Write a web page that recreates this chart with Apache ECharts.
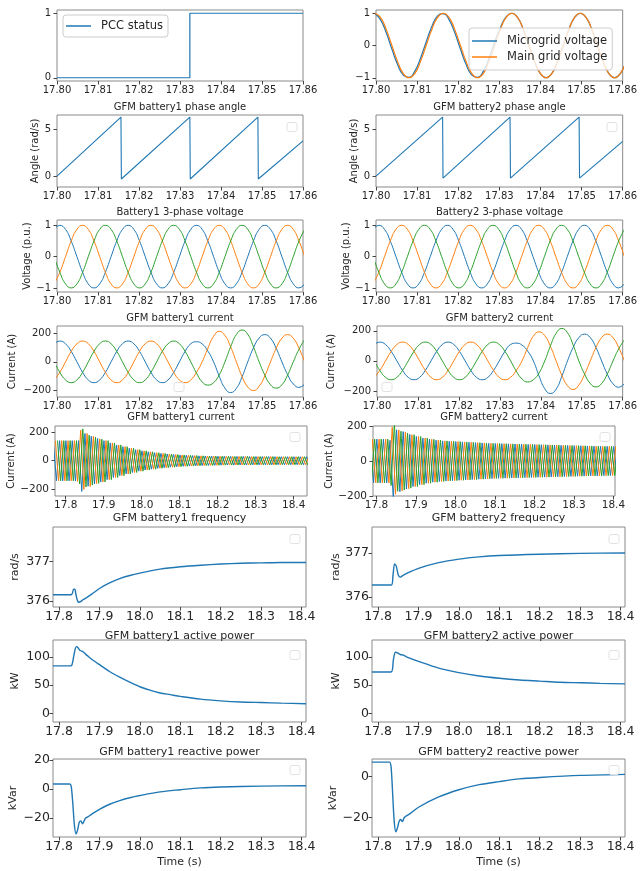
<!DOCTYPE html>
<html><head><meta charset="utf-8">
<script src="https://cdn.jsdelivr.net/npm/echarts@6/dist/echarts.min.js"></script>
<style>html,body{margin:0;padding:0;background:#fff}#c{width:640px;height:871px}</style>
</head><body><div id="c"></div>
<script>
// ================= DATA =================
const shortTicks = [17.80, 17.81, 17.82, 17.83, 17.84, 17.85, 17.86];
const longTicks = [17.8, 17.9, 18.0, 18.1, 18.2, 18.3, 18.4];

// 30-degree sampling step (60 Hz) for the zoomed waveform panels
const DT = 1 / 720;
const T0_GRIDV = 17.7997;
const T0_BAT = 17.7993;

const pccT = [17.80, 17.8324, 17.8324, 17.86];
const pccV = [0, 0, 1, 1];

const microgridV = [.99,.80,.40,-.11,-.59,-.92,-.99,-.80,-.40,.11,.59,.92,
  .99,.80,.40,-.11,-.59,-.92,-.99,-.80,-.40,.11,.55,.89,
  1,.87,.5,0,-.5,-.87,-1,-.87,-.5,0,.5,.87,
  1,.87,.5,0,-.5,-.87,-1,-.87,-.5];
const mainGridV = [1,.87,.5,0,-.5,-.87,-1,-.87,-.5,0,.5,.87,
  1,.87,.5,0,-.5,-.87,-1,-.87,-.5,0,.5,.87,
  1,.87,.5,0,-.5,-.87,-1,-.87,-.5,0,.5,.87,
  1,.87,.5,0,-.5,-.87,-1,-.87,-.5];

const angle1T = [17.80, 17.8156, 17.8157, 17.8324, 17.8325, 17.8490, 17.8491, 17.86];
const angle1V = [0, 6.28, -0.3, 6.28, -0.3, 6.28, -0.3, 3.75];
const angle2T = [17.80, 17.8162, 17.8163, 17.8326, 17.8327, 17.8494, 17.8495, 17.86];
const angle2V = [0, 6.28, -0.2, 6.28, -0.2, 6.28, -0.2, 3.7];

const volt1A = [.87,1,.87,.5,0,-.5,-.87,-1,-.87,-.5,0,.5,
  .87,1,.87,.5,0,-.5,-.87,-1,-.87,-.5,0,.5,
  .87,1,.87,.5,0,-.5,-.87,-1,-.87,-.5,0,.5,
  .87,1,.87,.5,0,-.5,-.87,-1,-.87];
const volt1B = [-.87,-.5,0,.5,.87,1,.87,.5,0,-.5,-.87,-1,
  -.87,-.5,0,.5,.87,1,.87,.5,0,-.5,-.87,-1,
  -.87,-.5,0,.5,.87,1,.87,.5,0,-.5,-.87,-1,
  -.87,-.5,0,.5,.87,1,.87,.5,0];
const volt1C = [0,-.5,-.87,-1,-.87,-.5,0,.5,.87,1,.87,.5,
  0,-.5,-.87,-1,-.87,-.5,0,.5,.87,1,.87,.5,
  0,-.5,-.87,-1,-.87,-.5,0,.5,.87,1,.87,.5,
  0,-.5,-.87,-1,-.87,-.5,0,.5,.87];
const volt2A = volt1A, volt2B = volt1B, volt2C = volt1C;

const cur1A = [126,145,126,73,0,-73,-126,-145,-126,-73,0,73,
  126,145,126,73,0,-73,-126,-145,-126,-73,0,73,
  126,140,125,75,0,-100,-184,-214,-185,-105,0,97,166,190,165,94,0,-89,-154,-178,-155];
const cur1B = [-126,-73,0,73,126,145,126,73,0,-73,-126,-145,
  -126,-73,0,73,126,145,126,73,0,-73,-126,-145,
  -126,-73,0,95,178,213,184,104,0,-102,-175,-200,-170,-98,0,95,165,190,165,95,0];
const cur1C = [0,-73,-126,-145,-126,-73,0,73,126,145,126,73,
  0,-73,-126,-145,-126,-73,0,73,126,145,126,73,
  0,-78,-140,-162,-145,-90,0,105,190,222,192,105,0,-92,-160,-183,-160,-92,0,88,155];
const cur2A = [109,125,109,63,0,-63,-109,-125,-109,-63,0,63,
  109,125,109,63,0,-63,-109,-125,-109,-63,0,63,
  109,118,105,65,0,-100,-185,-217,-188,-103,0,90,155,178,155,89,0,-88,-152,-175,-152];
const cur2B = [-109,-63,0,63,109,125,109,63,0,-63,-109,-125,
  -109,-63,0,63,109,125,109,63,0,-63,-109,-125,
  -109,-63,0,88,165,193,168,97,0,-95,-165,-190,-160,-90,0,89,155,178,155,89,0];
const cur2C = [0,-63,-109,-125,-109,-63,0,63,109,125,109,63,
  0,-63,-109,-125,-109,-63,0,63,109,125,109,63,
  0,-68,-120,-140,-125,-80,0,100,183,216,187,105,0,-87,-150,-173,-150,-87,0,80,140];

// long-window currents: one value per half cycle (peaks), 1/120 s apart
const DT_HALF = 1 / 120;
const T0_DENSE = [17.7674, 17.7730, 17.7785];
const head1A = [140,-140,140,-140,140,-140,140,-142,140,-214,190,-178,170,-162,155];
const head1B = [140,-140,140,-140,140,-140,140,-145,213,-200,190,-180,170,-160,152];
const head1C = [140,-140,140,-140,140,-140,140,-162,222,-183,178,-170,165,-158,150];
const tail1 = [-148,140,-132,124,-117,110,-104,98,-92,87,-82,77,-73,69,-65,62,-59,56,-53,51,
  -49,47,-45,43,-42,40,-39,38,-37,36,-35,34,-34,33,-33,32,-32,31,-31,31,
  -30,30,-30,30,-30,30,-30,29,-29,29,-29,29,-29,29,-29,28,-28,28,-28,28,
  -28,28,-28,28,-28,28,-28];
const head2A = [125,-125,125,-125,125,-125,125,-125,118,-217,178,-175,168,-160,152];
const head2B = [125,-125,125,-125,125,-125,125,-125,193,-190,178,-170,165,-158,150];
const head2C = [125,-125,125,-125,125,-125,125,-140,216,-173,170,-166,160,-155,150];
const tail2 = [-146,140,-135,131,-127,124,-121,119,-117,115,-114,113,-112,111,-110,109,-108,107,-106,105,
  -104,103,-102,101,-100,100,-99,99,-98,98,-97,97,-96,96,-95,95,-94,94,-93,93,
  -92,92,-91,91,-90,90,-89,89,-88,88,-87,87,-86,86,-85,85,-85,84,-84,84,
  -83,83,-83,83,-82,82,-82];

const freq1T = [17.785,17.83,17.833,17.836,17.839,17.842,17.846,17.85,17.855,17.86,17.87,17.88,17.9,17.925,17.95,17.975,18.0,18.05,18.1,18.15,18.2,18.25,18.3,18.35,18.411];
const freq1V = [376.16,376.16,376.2,376.3,376.3,376.15,376.0,375.97,376.0,376.04,376.1,376.17,376.32,376.46,376.57,376.65,376.71,376.81,376.87,376.91,376.94,376.96,376.97,376.98,376.98];
const freq2T = [17.785,17.833,17.837,17.841,17.845,17.85,17.855,17.86,17.87,17.9,17.95,18.0,18.05,18.1,18.2,18.3,18.411];
const freq2V = [376.27,376.27,376.5,376.75,376.7,376.5,376.45,376.48,376.53,376.65,376.78,376.86,376.91,376.94,376.97,376.99,377.0];

const p1T = [17.785,17.828,17.832,17.836,17.84,17.843,17.847,17.852,17.857,17.862,17.87,17.88,17.9,17.925,17.95,17.975,18.0,18.025,18.05,18.075,18.1,18.15,18.2,18.25,18.3,18.35,18.411];
const p1V = [84,84,86,100,114,118,116,111,110,107,102,96,86,74,64,55,47,41,36,33,30,25,22,20,19,18,17];
const p2T = [17.785,17.832,17.838,17.843,17.848,17.855,17.862,17.87,17.9,17.95,18.0,18.05,18.1,18.15,18.2,18.25,18.3,18.35,18.411];
const p2V = [73,73,95,108,107,104,103,100,92,80,72,66,62,59,57,55,54,53,52];

const q1T = [17.785,17.826,17.83,17.834,17.838,17.842,17.846,17.85,17.854,17.858,17.862,17.866,17.872,17.88,17.9,17.925,17.95,17.975,18.0,18.05,18.1,18.15,18.2,18.3,18.411];
const q1V = [3.5,3.5,2,-10,-25,-31,-28,-23,-22,-24,-22,-20,-19,-17.5,-14,-10.5,-8,-6,-4.5,-2,-0.5,0.8,1.4,2,2.3];
const q2T = [17.785,17.828,17.832,17.836,17.84,17.844,17.848,17.852,17.856,17.86,17.865,17.872,17.88,17.9,17.95,18.0,18.05,18.1,18.15,18.2,18.3,18.411];
const q2V = [7,7,5,-8,-22,-27,-25,-22,-21,-22,-20,-19,-18,-15,-10,-6.5,-4,-2.5,-1.2,-0.5,0.5,1];

// ================= CHART =================
const C = ['#1f77b4', '#ff7f0e', '#2ca02c'];
const FONT = 'DejaVu Sans';
const TXT = '#262626';
const fmtY = v => String(Math.round(v * 100) / 100).replace('-', '\u2212');

const G = [
  [57,10,246,71],[376,10,247,71],
  [57,115,246,72],[376,115,247,72],
  [57,220,246,72],[376,220,247,72],
  [57,326,246,71],[377,326,246,71],
  [55,426,252,70],[373,426,242,70],
  [53,527,253,80],[372,527,253,80],
  [53,640,253,82],[372,640,253,82],
  [53,759,253,78],[372,759,253,78]
];
const XR = [
  [17.80,17.86],[17.80,17.86],[17.80,17.86],[17.80,17.86],
  [17.80,17.86],[17.80,17.86],[17.80,17.86],[17.80,17.86],
  [17.772,18.435],[17.791,18.404],
  [17.785,18.411],[17.785,18.411],[17.785,18.411],[17.785,18.411],[17.785,18.411],[17.785,18.411]
];
const YR = [
  [-0.05,1.05,[0,1]],[-1.1,1.1,[-1,0,1]],
  [-1.15,6.5,[0,5]],[-1.15,6.5,[0,5]],
  [-1.13,1.17,[-1,0,1]],[-1.13,1.17,[-1,0,1]],
  [-245,250,[-200,0,200]],[-240,232,[-200,0,200]],
  [-246,242,[-200,0,200]],[-200,200,[-200,0,200]],
  [375.85,377.88,[376,377]],[375.77,377.59,[376,377]],
  [-15.4,129.7,[0,50,100]],[-15.4,129.7,[0,50,100]],
  [-33.1,20.7,[-20,0,20]],[-29.5,8.5,[-20,0]]
];
const YNAME = [
  ['',0],['',0],
  ['Angle (rad/s)',15],['Angle (rad/s)',14],
  ['Voltage (p.u.)',24],['Voltage (p.u.)',24],
  ['Current (A)',40],['Current (A)',41],
  ['Current (A)',28],['Current (A)',39],
  ['rad/s',32],['rad/s',30],
  ['kW',32],['kW',30],
  ['kVar',34],['kVar',32]
];

const grid = [], xAxis = [], yAxis = [];
G.forEach((g, i) => {
  const big = i >= 10;
  const mid = i === 8 || i === 9;
  const tickFs = big ? 12.5 : (mid ? 10.5 : 10);
  grid.push({left:g[0], top:g[1], width:g[2], height:g[3], show:true, borderColor:'#8a8a8a', borderWidth:1, containLabel:false});
  const xt = i < 8 ? shortTicks : longTicks;
  xAxis.push({
    type:'value', gridIndex:i, min:XR[i][0], max:XR[i][1],
    axisLine:{show:false, onZero:false}, splitLine:{show:false},
    axisTick:{show:true, length:3.5, lineStyle:{color:'#444'}, customValues:xt},
    axisLabel:{show:true, customValues:xt, margin: big ? 3.5 : 4, fontFamily:FONT, fontSize:tickFs, color:TXT,
      formatter: v => i < 8 ? v.toFixed(2) : v.toFixed(1), showMinLabel:true, showMaxLabel:true},
    name: (i >= 14) ? 'Time (s)' : '', nameLocation:'middle', nameGap:20,
    nameTextStyle:{fontFamily:FONT, fontSize:11, color:TXT}
  });
  yAxis.push({
    type:'value', gridIndex:i, min:YR[i][0], max:YR[i][1],
    axisLine:{show:false, onZero:false}, splitLine:{show:false},
    axisTick:{show:true, length:3.5, lineStyle:{color:'#444'}, customValues:YR[i][2]},
    axisLabel:{show:true, customValues:YR[i][2], margin: big ? 3 : 6, fontFamily:FONT, fontSize:tickFs, color:TXT,
      formatter: fmtY, showMinLabel:true, showMaxLabel:true},
    name: YNAME[i][0], nameLocation:'middle', nameGap:YNAME[i][1], nameRotate:90,
    nameTextStyle:{fontFamily:FONT, fontSize: big ? 11 : 10, color:TXT}
  });
});

const series = [];
const pairs = (ts, vs) => ts.map((t, k) => [t, vs[k]]);
const gridPairs = (t0, dt, vs) => vs.map((v, k) => [t0 + k * dt, v]);
function add(name, idx, data, color, width, smooth) {
  series.push({type:'line', name, xAxisIndex:idx, yAxisIndex:idx, data,
    symbol:'none', showSymbol:false, smooth: smooth || false, clip:true, silent:true, animation:false,
    lineStyle:{color, width: width || 1.1}, itemStyle:{color}, emphasis:{disabled:true}});
}
add('PCC status', 0, pairs(pccT, pccV), C[0], 1.2);
add('Microgrid voltage', 1, gridPairs(T0_GRIDV, DT, microgridV), C[0], 1.2, 0.5);
add('Main grid voltage', 1, gridPairs(T0_GRIDV, DT, mainGridV), C[1], 1.2, 0.5);
add('Battery1 angle', 2, pairs(angle1T, angle1V), C[0], 1.1);
add('Battery2 angle', 3, pairs(angle2T, angle2V), C[0], 1.1);
[[volt1A, volt1B, volt1C, 4], [volt2A, volt2B, volt2C, 5], [cur1A, cur1B, cur1C, 6], [cur2A, cur2B, cur2C, 7]]
  .forEach(s => { for (let p = 0; p < 3; p++) add('w' + s[3] + p, s[3], gridPairs(T0_BAT, DT, s[p]), C[p], 1.0, 0.5); });
const dense1 = [head1A.concat(tail1), head1B.concat(tail1), head1C.concat(tail1)];
const dense2 = [head2A.concat(tail2), head2B.concat(tail2), head2C.concat(tail2)];
for (let p = 0; p < 3; p++) add('d1' + p, 8, gridPairs(T0_DENSE[p], DT_HALF, dense1[p]), C[p], 1);
for (let p = 0; p < 3; p++) add('d2' + p, 9, gridPairs(T0_DENSE[p], DT_HALF, dense2[p]), C[p], 1);
add('f1', 10, pairs(freq1T, freq1V), C[0], 1.4, 0.3);
add('f2', 11, pairs(freq2T, freq2V), C[0], 1.4, 0.3);
add('p1', 12, pairs(p1T, p1V), C[0], 1.4, 0.3);
add('p2', 13, pairs(p2T, p2V), C[0], 1.4, 0.3);
add('q1', 14, pairs(q1T, q1V), C[0], 1.4, 0.3);
add('q2', 15, pairs(q2T, q2V), C[0], 1.4, 0.3);

const titles = [
  ['GFM battery1 phase angle',180,107,10],['GFM battery2 phase angle',499.5,107,10],
  ['Battery1 3-phase voltage',180,212,10],['Battery2 3-phase voltage',499.5,212,10],
  ['GFM battery1 current',180,318,10],['GFM battery2 current',499.5,318,10],
  ['GFM battery1 current',181,417,10],['GFM battery2 current',494,417,10],
  ['GFM battery1 frequency',179.5,518,11],['GFM battery2 frequency',498.5,518,11],
  ['GFM battery1 active power',179.5,636,11],['GFM battery2 active power',498.5,636,11],
  ['GFM battery1 reactive power',179.5,752,11],['GFM battery2 reactive power',498.5,752,11]
];
const graphic = titles.map(t => ({type:'text', x:t[1], y:t[2], silent:true,
  style:{text:t[0], textAlign:'center', textVerticalAlign:'middle', fontFamily:FONT, fontSize:t[3], fill:TXT}}));
// empty legend frames
[[292,127],[612,127],[179,387],[387,387],[295,437],[605,437],[295,539],[614,539],[295,655],[614,655],[295,770],[614,770]]
  .forEach(b => graphic.push({type:'rect', silent:true, shape:{x:b[0]-5, y:b[1]-4.5, width:10, height:9, r:2},
    style:{fill:'rgba(255,255,255,0.8)', stroke:'#e2e2e2', lineWidth:1}, z:10}));

const legTxt = {fontFamily:FONT, fontSize:11.5, color:TXT, padding:[0,0,0,5]};
const option = {
  animation:false,
  grid, xAxis, yAxis, series, graphic,
  legend:[
    {data:['PCC status'], left:63, top:15, orient:'vertical', padding:[5,5,5,3], itemWidth:25, itemHeight:1.5, icon:'rect',
      backgroundColor:'rgba(255,255,255,0.8)', borderColor:'#cccccc', borderWidth:1, borderRadius:3,
      textStyle:legTxt, selectedMode:false},
    {data:['Microgrid voltage','Main grid voltage'], left:469, top:28, orient:'vertical', itemGap:4,
      padding:[7,5,7,3], itemWidth:25, itemHeight:1.5, icon:'rect',
      backgroundColor:'rgba(255,255,255,0.8)', borderColor:'#cccccc', borderWidth:1, borderRadius:3,
      textStyle:legTxt, selectedMode:false}
  ]
};
const chart = echarts.init(document.getElementById('c'));
chart.setOption(option);
</script></body></html>
